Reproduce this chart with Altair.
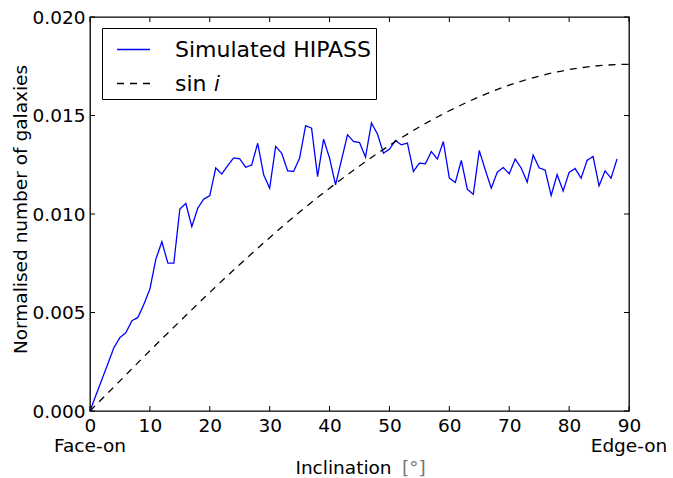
import altair as alt
import pandas as pd

# Inclination bins (degrees)
inclination = list(range(0, 89))
# Simulated HIPASS normalised counts
hipass = [
    0.0, 0.00081, 0.00161, 0.00241, 0.00322, 0.00373, 0.00398, 0.00458, 0.00475, 0.00542,
    0.00619, 0.00771, 0.00859, 0.00751, 0.00751, 0.01025, 0.01054, 0.00936, 0.01030, 0.01076,
    0.01093, 0.01234, 0.01203, 0.01246, 0.01285, 0.01280, 0.01237, 0.01249, 0.01359, 0.01199,
    0.01131, 0.01343, 0.01309, 0.01219, 0.01216, 0.01284, 0.01448, 0.01436, 0.01190, 0.01380,
    0.01284, 0.01148, 0.01275, 0.01402, 0.01368, 0.01363, 0.01289, 0.01462, 0.01406, 0.01309,
    0.01329, 0.01373, 0.01351, 0.01360, 0.01216, 0.01258, 0.01255, 0.01317, 0.01279, 0.01368,
    0.01182, 0.01160, 0.01272, 0.01126, 0.01100, 0.01322, 0.01224, 0.01131, 0.01212, 0.01236,
    0.01204, 0.01279, 0.01233, 0.01162, 0.01299, 0.01234, 0.01223, 0.01094, 0.01200, 0.01117,
    0.01211, 0.01231, 0.01182, 0.01272, 0.01292, 0.01143, 0.01219, 0.01182, 0.01279,
]
# sin i reference curve (at 5 degree steps)
sin_inc = [0, 5, 10, 15, 20, 25, 30, 35, 40, 45, 50, 55, 60, 65, 70, 75, 80, 85, 90]
sin_val = [0.0, 0.00153, 0.00306, 0.00455, 0.00602, 0.00744, 0.00880, 0.01010, 0.01131,
           0.01244, 0.01348, 0.01442, 0.01524, 0.01595, 0.01654, 0.01700, 0.01733, 0.01753, 0.01760]

series_names = ["Simulated HIPASS", "sin \U0001D456"]
series_colors = ["#0000ff", "#000000"]
series_dashes = [[1, 0], [7, 6]]

x_ticks = [0, 10, 20, 30, 40, 50, 60, 70, 80, 90]
y_ticks = [0.0, 0.005, 0.010, 0.015, 0.020]
end_pos = [0, 90]
end_labels = ["Face-on", "Edge-on"]

W, H = 539, 394
FONT = "DejaVu Sans"

df_h = pd.DataFrame({"inc": inclination, "val": hipass, "series": series_names[0]})
df_s = pd.DataFrame({"inc": sin_inc, "val": sin_val, "series": series_names[1]})

xscale = alt.Scale(domain=[0, 90], nice=False, zero=False)
yscale = alt.Scale(domain=[0, 0.02], nice=False)


def make_legend():
    return alt.Legend(title=None, orient="none", legendX=12, legendY=11,
                      symbolType="stroke", symbolSize=1089, symbolStrokeWidth=1.3,
                      symbolOffset=10, labelFontSize=22, labelFont=FONT, labelOffset=24,
                      labelLimit=0, padding=4, rowPadding=5, strokeColor="black",
                      fillColor="white", cornerRadius=0, labelColor="black")


color = alt.Color("series:N",
                  scale=alt.Scale(domain=series_names, range=series_colors),
                  legend=make_legend())
dash = alt.StrokeDash("series:N",
                      scale=alt.Scale(domain=series_names, range=series_dashes),
                      legend=make_legend())

xaxis = alt.Axis(values=x_ticks, tickSize=0, domain=False, grid=False, labelFontSize=18.5,
                 labelFont=FONT, labelColor="black", labelPadding=20.5,
                 labelBaseline="alphabetic",
                 labelFlush=False, labelOverlap=False, labelBound=False,
                 title="Inclination", titleFont=FONT, titleFontSize=18.5, titleFontWeight="normal",
                 titleColor="black", titleX=253, titleY=62.5, titleAlign="center",
                 titleBaseline="alphabetic")
yaxis = alt.Axis(values=y_ticks, format=".3f", tickSize=0, domain=False, grid=False,
                 labelFontSize=18.5, labelFont=FONT, labelColor="black", labelPadding=5,
                 labelFlush=False, labelOverlap=False, labelBound=False,
                 title="Normalised number of galaxies", titleFont=FONT, titleFontSize=18.5,
                 titleFontWeight="normal", titleColor="black", titleX=-70, titleY=H / 2 - 5,
                 titleAngle=270, titleAlign="center", titleBaseline="middle")

hip_line = alt.Chart(df_h).mark_line(strokeWidth=1.3).encode(
    x=alt.X("inc:Q", scale=xscale, axis=xaxis),
    y=alt.Y("val:Q", scale=yscale, axis=yaxis),
    color=color, strokeDash=dash,
)
sin_line = alt.Chart(df_s).mark_line(strokeWidth=1.3, interpolate="monotone").encode(
    x=alt.X("inc:Q", scale=xscale),
    y=alt.Y("val:Q", scale=yscale),
    color=color, strokeDash=dash,
)

df_xt = pd.DataFrame({"t": x_ticks})
df_yt = pd.DataFrame({"t": y_ticks})
TL = 5
tick_style = dict(color="black", strokeWidth=1)
xt_bottom = alt.Chart(df_xt).mark_rule(**tick_style).encode(
    x=alt.X("t:Q", scale=xscale), y=alt.value(H), y2=alt.value(H - TL))
xt_top = alt.Chart(df_xt).mark_rule(**tick_style).encode(
    x=alt.X("t:Q", scale=xscale), y=alt.value(0), y2=alt.value(TL))
yt_left = alt.Chart(df_yt).mark_rule(**tick_style).encode(
    y=alt.Y("t:Q", scale=yscale), x=alt.value(0), x2=alt.value(TL))
yt_right = alt.Chart(df_yt).mark_rule(**tick_style).encode(
    y=alt.Y("t:Q", scale=yscale), x=alt.value(W), x2=alt.value(W - TL))

end_text = alt.Chart(pd.DataFrame({"p": end_pos, "lab": end_labels})).mark_text(
    align="center", baseline="alphabetic", fontSize=18.5, font=FONT, color="black"
).encode(x=alt.X("p:Q", scale=xscale), y=alt.value(434.5), text="lab:N")

unit_text = alt.Chart(pd.DataFrame({"u": ["[°]"]})).mark_text(
    align="left", baseline="alphabetic", fontSize=18.5, font=FONT, color="#777777"
).encode(x=alt.value(312), y=alt.value(456.5), text="u:N")

chart = alt.layer(
    hip_line, sin_line, xt_bottom, xt_top, yt_left, yt_right, end_text, unit_text
).properties(
    width=W, height=H,
    autosize=alt.AutoSizeParams(type="none"),
    padding={"left": 90, "top": 17, "right": 44, "bottom": 67},
    background="white",
).configure_view(
    stroke="black", strokeWidth=1.3
)

chart.save("out.html", embed_options={"renderer": "svg", "actions": False})
